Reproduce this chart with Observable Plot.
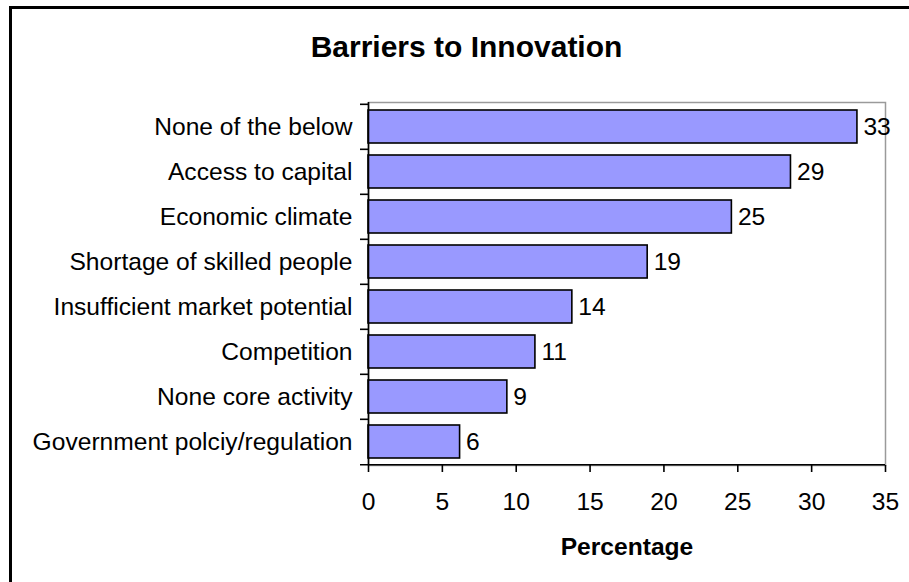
<!DOCTYPE html>
<html>
<head>
<meta charset="utf-8">
<script src="https://cdn.jsdelivr.net/npm/d3@7"></script>
<script src="https://cdn.jsdelivr.net/npm/@observablehq/plot@0.6"></script>
<style>
  html, body { margin: 0; padding: 0; background: #fff; }
  #wrap { position: relative; width: 909px; height: 582px; overflow: hidden; font-family: "Liberation Sans", Arial, sans-serif; }
  #outer { position: absolute; left: 9px; top: 6px; width: 960px; height: 640px; border-left: 3px solid #000; border-top: 3px solid #000; box-sizing: border-box; }
  #title { position: absolute; left: 0; width: 933px; top: 29px; text-align: center; font-weight: bold; font-size: 30px; color: #000; line-height: 36px; }
  #chart { position: absolute; left: 0; top: 0; }
  #chart svg { font-family: "Liberation Sans", Arial, sans-serif; }
</style>
</head>
<body>
<div id="wrap">
  <div id="outer"></div>
  <div id="title">Barriers to Innovation</div>
  <div id="chart"></div>
</div>
<script>
const categories = [
  "None of the below",
  "Access to capital",
  "Economic climate",
  "Shortage of skilled people",
  "Insufficient market potential",
  "Competition",
  "None core activity",
  "Government polciy/regulation"
];
const values = [33.1, 28.6, 24.6, 18.9, 13.8, 11.3, 9.4, 6.2];
const xTicks = [0, 5, 10, 15, 20, 25, 30, 35];
const xLabel = "Percentage";

const data = categories.map((c, i) => ({category: c, value: values[i]}));

const W = 909, H = 582;
const mTop = 102, mBottom = 117, mLeft = 368, mRight = 24;
const pInner = 0.27, pOuter = pInner / 2;
const plotH = H - mTop - mBottom;
const step = plotH / categories.length; // paddingInner + 2*paddingOuter cancel => step = plotH / n
const plotW = W - mLeft - mRight;
const fs = 24.6;

const chart = Plot.plot({
  width: W,
  height: H,
  marginTop: mTop,
  marginBottom: mBottom,
  marginLeft: mLeft,
  marginRight: mRight,
  style: {fontFamily: "Liberation Sans, Arial, sans-serif", background: "transparent"},
  x: {domain: [0, 35], ticks: xTicks, label: null},
  y: {domain: categories, paddingInner: pInner, paddingOuter: pOuter, label: null},
  marks: [
    Plot.frame({stroke: "#9a9a9a", strokeWidth: 1.5}),
    Plot.barX(data, {x: "value", y: "category", fill: "#9999ff", stroke: "#000", strokeWidth: 1.6}),
    Plot.text(data, {x: "value", y: "category", text: d => d3.format(".0f")(d.value), textAnchor: "start", dx: 6, fontSize: fs, fill: "#000"}),
    Plot.axisX({ticks: xTicks, tickSize: 7, tickPadding: 20, fontSize: fs, stroke: "#000", strokeWidth: 1.6, label: null, fill: "#000"}),
    Plot.axisY({tickSize: 0, tickPadding: 16, fontSize: fs, label: null, fill: "#000"}),
    // category boundary ticks
    Plot.ruleY(categories, {y: d => d, dy: -step / 2, insetLeft: -8, insetRight: plotW, stroke: "#000", strokeWidth: 1.6}),
    // bottom boundary + x axis line
    Plot.ruleY([categories[categories.length - 1]], {y: d => d, dy: step / 2, insetLeft: -8, stroke: "#000", strokeWidth: 1.6}),
    // value axis line
    Plot.ruleX([0], {stroke: "#000", strokeWidth: 1.6}),
    Plot.text([xLabel], {frameAnchor: "bottom", dy: 89, fontSize: fs, fontWeight: "bold", fill: "#000"})
  ]
});
document.getElementById("chart").appendChild(chart);
</script>
</body>
</html>
